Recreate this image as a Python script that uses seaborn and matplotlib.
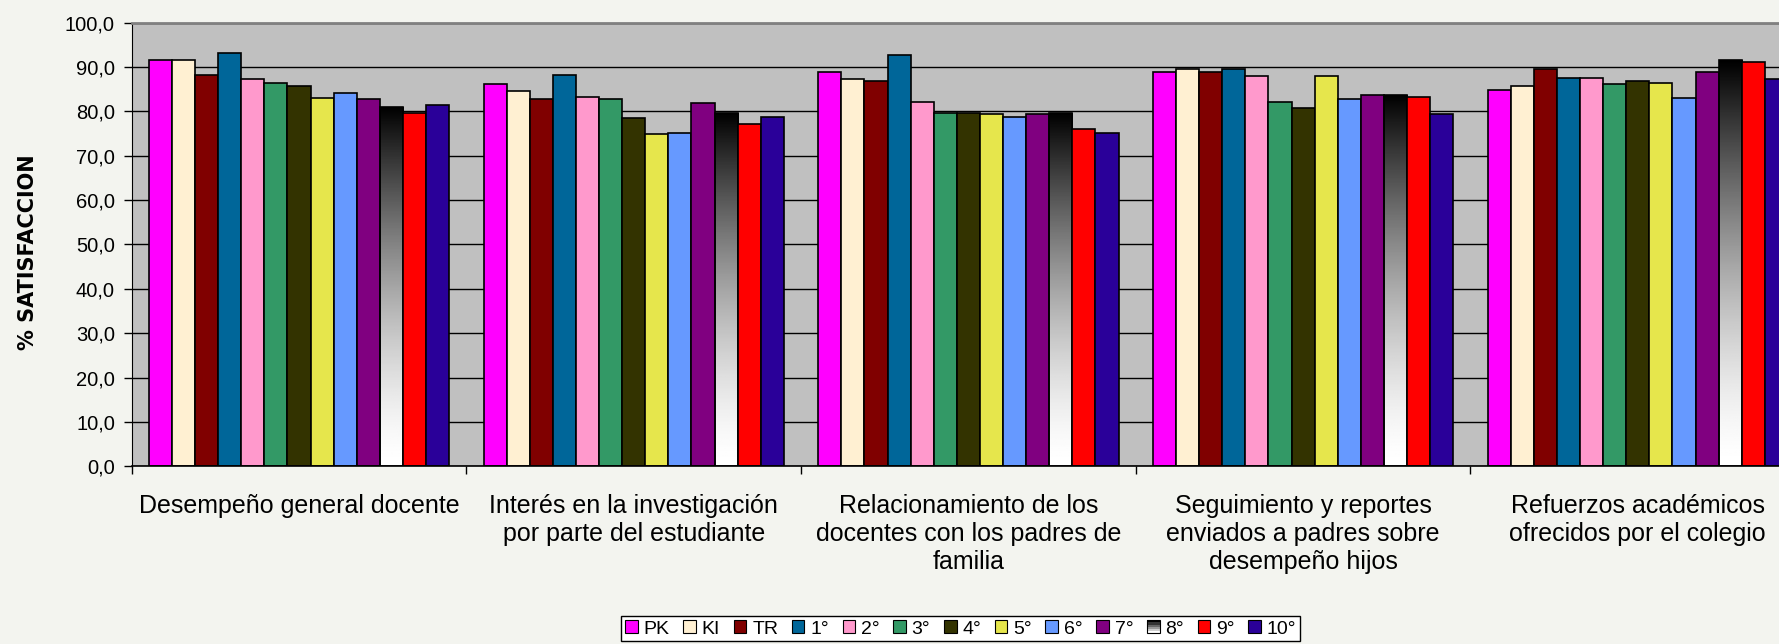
import numpy as np
import pandas as pd
import matplotlib
matplotlib.use("Agg")
import matplotlib.pyplot as plt
import seaborn as sns
from matplotlib.patches import Patch, Rectangle
from matplotlib.legend_handler import HandlerBase

# categorias del eje x y grados (series)
categorias = [
    "Desempeño general docente",
    "Interés en la investigación\npor parte del estudiante",
    "Relacionamiento de los\ndocentes con los padres de\nfamilia",
    "Seguimiento y reportes\nenviados a padres sobre\ndesempeño hijos",
    "Refuerzos académicos\nofrecidos por el colegio",
]
grados = ["PK", "KI", "TR", "1°", "2°", "3°", "4°", "5°", "6°", "7°", "8°", "9°", "10°"]

# % satisfaccion por grado, una lista por categoria
desempeno = [91.6, 91.6, 88.1, 93.1, 87.3, 86.5, 85.7, 83.0, 84.1, 82.7, 81.1, 79.7, 81.5]
interes = [86.1, 84.6, 82.7, 88.1, 83.3, 82.7, 78.4, 74.8, 75.2, 81.8, 79.6, 77.2, 78.7]
relacion = [88.8, 87.3, 86.9, 92.7, 82.2, 79.7, 79.7, 79.4, 78.7, 79.5, 79.7, 76.0, 75.2]
seguimiento = [88.8, 89.6, 88.8, 89.6, 88.0, 82.2, 80.7, 88.0, 82.7, 83.7, 83.7, 83.3, 79.5]
refuerzos = [84.9, 85.7, 89.6, 87.6, 87.6, 86.1, 86.9, 86.5, 83.0, 88.8, 91.5, 91.2, 87.3]

colores = ["#FF00FF", "#FFF0D2", "#800000", "#006699", "#FF99CC", "#339966", "#333300",
           "#E6E64C", "#6699FF", "#800080", "#808080", "#FF0000", "#2A0099"]

valores = [desempeno, interes, relacion, seguimiento, refuerzos]
filas = []
for cat, vals in zip(categorias, valores):
    for g, v in zip(grados, vals):
        filas.append({"categoria": cat, "grado": g, "valor": v})
df = pd.DataFrame(filas)

plt.rcParams["font.family"] = ["Liberation Sans", "DejaVu Sans"]

fig = plt.figure(figsize=(17.79, 6.44), dpi=100, facecolor="#f3f4ef")
ax = fig.add_axes([0.074, 0.2759, 0.9407, 0.6889])
ax.set_facecolor("#C0C0C0")

sns.barplot(data=df, x="categoria", y="valor", hue="grado", order=categorias,
            hue_order=grados, palette=colores, width=0.897, saturation=1,
            edgecolor="black", linewidth=1.2, errorbar=None, legend=False, ax=ax)

# barras de 8° con degradado negro -> blanco
idx8 = grados.index("8°")
for bar in ax.containers[idx8]:
    x0 = bar.get_x()
    w = bar.get_width()
    h = bar.get_height()
    t = np.linspace(0, 1, 256)[:, None]
    grad = 1 - t ** 1.5
    im = ax.imshow(grad, extent=[x0, x0 + w, 0, h], origin="lower", cmap="gray",
                   vmin=0, vmax=1, aspect="auto", zorder=bar.get_zorder() - 0.01)
    im.set_clip_path(bar)
    bar.set_facecolor("none")

ax.set_xlim(-0.5, 4.5)
ax.set_ylim(0, 100)
ax.set_axisbelow(True)
ax.yaxis.grid(True, color="black", linewidth=1)

yt = np.arange(0, 101, 10)
ax.set_yticks(yt)
ax.set_yticklabels([f"{v:.1f}".replace(".", ",") for v in yt], fontsize=14.5)
ax.tick_params(axis="y", direction="out", length=6, width=1, pad=6)

ax.set_xticks(np.arange(-0.5, 5, 1))
ax.set_xticklabels([])
ax.set_xticks(range(len(categorias)), minor=True)
ax.set_xticklabels(categorias, minor=True, fontsize=18, linespacing=1.2)
ax.tick_params(axis="x", which="major", direction="out", length=6, width=1)
ax.tick_params(axis="x", which="minor", length=0, pad=20)
ax.set_xlabel("")

ax.set_ylabel("% SATISFACCION", fontsize=15, fontweight="bold", family="DejaVu Sans")
ax.yaxis.set_label_coords(-0.056, 0.483)

ax.spines["top"].set_color("#808080")
ax.spines["top"].set_linewidth(2)
ax.spines["left"].set_color("black")
ax.spines["bottom"].set_color("black")
ax.spines["bottom"].set_linewidth(1.2)


class Degradado(HandlerBase):
    def create_artists(self, legend, orig_handle, xdescent, ydescent, width, height, fontsize, trans):
        arts = []
        n = 6
        for i in range(n):
            g = 1 - i / (n - 1)
            r = Rectangle((-xdescent, -ydescent + i * height / n), width, height / n,
                          facecolor=(g, g, g), edgecolor="none", transform=trans)
            arts.append(r)
        arts.append(Rectangle((-xdescent, -ydescent), width, height, facecolor="none",
                              edgecolor="black", linewidth=0.8, transform=trans))
        return arts


handles = [Patch(facecolor=c, edgecolor="black", linewidth=0.8) for c in colores]
leg = fig.legend(handles, grados, ncol=13, loc="lower center", bbox_to_anchor=(0.54, 0.004),
                 frameon=True, fancybox=False, edgecolor="black", facecolor="white",
                 framealpha=1, fontsize=14, handlelength=0.65, handleheight=0.65,
                 handletextpad=0.3, columnspacing=0.7, borderpad=0.2, borderaxespad=0,
                 handler_map={handles[idx8]: Degradado()})
leg.get_frame().set_linewidth(1)

plt.savefig("out.png", dpi=100, facecolor=fig.get_facecolor())
